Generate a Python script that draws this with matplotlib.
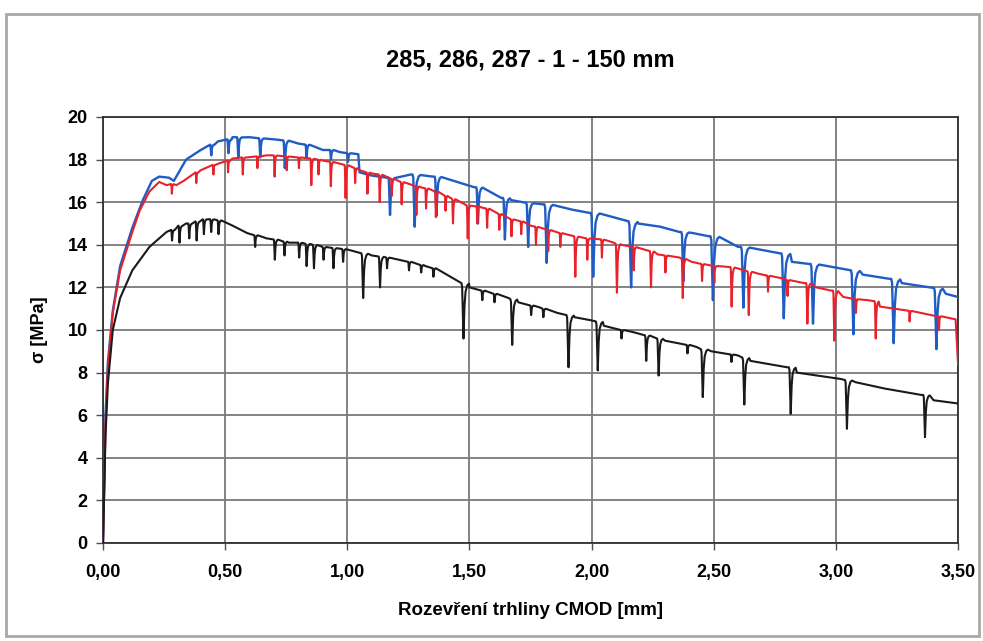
import numpy as np
import matplotlib
matplotlib.use("Agg")
import matplotlib.pyplot as plt
from matplotlib.patches import Rectangle
from matplotlib.ticker import FuncFormatter

plt.rcParams['font.family'] = ['Liberation Sans', 'DejaVu Sans']

# --- data ------------------------------------------------------------
title = "285, 286, 287 - 1 - 150 mm"
xlabel = "Rozevření trhliny CMOD [mm]"
ylabel = "σ [MPa]"

# blue specimen: envelope points (x, sigma)
blue_env_x = [0, 0.005, 0.01, 0.02, 0.04, 0.07, 0.12, 0.163, 0.20, 0.23, 0.27, 0.29, 0.31, 0.34,
              0.40, 0.47, 0.53, 0.60, 0.70, 0.80, 0.90, 0.97, 1.045, 1.05, 1.10, 1.16, 1.19, 1.26,
              1.29, 1.35, 1.38, 1.45, 1.52, 1.55, 1.63, 1.67, 1.73, 1.76, 1.80, 1.84, 1.92, 1.99,
              2.03, 2.15, 2.19, 2.28, 2.36, 2.41, 2.48, 2.51, 2.60, 2.65, 2.77, 2.82, 2.89, 2.92,
              3.06, 3.11, 3.22, 3.27, 3.40, 3.45, 3.50]
blue_env_y = [0, 3.0, 6.0, 8.5, 10.9, 13.0, 14.8, 16.1, 17.0, 17.2, 17.15, 17.0, 17.4, 18.0,
              18.45, 18.85, 19.05, 19.05, 18.95, 18.75, 18.45, 18.35, 18.25, 17.4, 17.25, 17.15, 17.3, 17.3,
              17.2, 17.2, 17.1, 16.95, 16.7, 16.5, 16.2, 16.1, 15.97, 15.97, 15.9, 15.8, 15.65, 15.5,
              15.27, 15.1, 15.0, 14.85, 14.6, 14.56, 14.4, 14.2, 13.9, 13.86, 13.6, 13.2, 13.1, 13.0,
              12.8, 12.6, 12.4, 12.2, 11.97, 11.7, 11.55]
# unloading cycles: position, stress before unloading, lowest stress
blue_dip_x = [0.44, 0.51, 0.55, 0.64, 0.74, 0.83, 0.93, 1.00, 1.17, 1.27, 1.36, 1.53, 1.64, 1.735,
              1.81, 2.00, 2.155, 2.37, 2.49, 2.615, 2.78, 2.90, 3.065, 3.23, 3.405]
blue_dip_top = [18.7, 18.95, 19.05, 19.0, 18.9, 18.7, 18.45, 18.3, 17.15, 17.3, 17.2, 16.7, 16.2, 15.97,
                15.9, 15.5, 15.1, 14.6, 14.4, 13.9, 13.6, 13.1, 12.8, 12.4, 11.97]
blue_dip_bot = [18.2, 18.3, 18.1, 18.1, 17.6, 18.1, 18.0, 17.9, 15.4, 14.85, 15.35, 15.0, 14.25, 13.9,
                13.15, 12.5, 12.0, 12.3, 11.4, 11.05, 10.55, 10.3, 9.8, 9.38, 9.1]

# red specimen
red_env_x = [0, 0.005, 0.01, 0.02, 0.04, 0.07, 0.12, 0.15, 0.19, 0.23, 0.26, 0.30, 0.33, 0.40,
             0.47, 0.53, 0.67, 0.81, 0.90, 1.00, 1.05, 1.10, 1.22, 1.30, 1.40, 1.49, 1.55, 1.67,
             1.75, 1.88, 1.94, 2.00, 2.09, 2.12, 2.24, 2.27, 2.36, 2.41, 2.52, 2.58, 2.68, 2.79,
             2.87, 2.92, 2.98, 3.03, 3.13, 3.18, 3.30, 3.41, 3.49, 3.50]
red_env_y = [0, 2.5, 5.5, 8.3, 10.8, 12.8, 14.6, 15.6, 16.5, 16.95, 16.8, 16.8, 17.0, 17.5,
             17.8, 18.05, 18.2, 18.1, 17.95, 17.75, 17.5, 17.35, 16.95, 16.7, 16.3, 15.85, 15.75, 15.2,
             14.9, 14.5, 14.4, 14.3, 14.1, 14.0, 13.7, 13.55, 13.4, 13.2, 13.0, 12.95, 12.65, 12.4,
             12.2, 12.0, 11.85, 11.55, 11.4, 11.1, 10.9, 10.65, 10.5, 8.4]
red_dip_x = [0.28, 0.38, 0.45, 0.51, 0.57, 0.63, 0.70, 0.75, 0.80, 0.85, 0.88, 0.93, 0.99, 1.03,
             1.08, 1.13, 1.18, 1.22, 1.28, 1.32, 1.36, 1.40, 1.43, 1.49, 1.53, 1.57, 1.62, 1.67,
             1.71, 1.77, 1.82, 1.87, 1.93, 1.98, 2.04, 2.10, 2.17, 2.24, 2.30, 2.37, 2.45, 2.50,
             2.57, 2.64, 2.72, 2.80, 2.88, 2.99, 3.08, 3.16, 3.30, 3.42]
red_dip_top = [16.85, 17.4, 17.75, 17.95, 18.1, 18.15, 18.2, 18.15, 18.1, 18.05, 18.0, 17.9, 17.75, 17.6,
               17.4, 17.3, 17.1, 16.95, 16.75, 16.65, 16.5, 16.3, 16.15, 15.85, 15.8, 15.7, 15.45, 15.2,
               15.1, 14.85, 14.7, 14.55, 14.4, 14.3, 14.25, 14.05, 13.9, 13.7, 13.5, 13.35, 13.1, 13.0,
               12.95, 12.75, 12.55, 12.35, 12.2, 11.85, 11.45, 11.35, 10.9, 10.65]
red_dip_bot = [16.4, 16.9, 17.3, 17.4, 17.3, 17.6, 17.2, 17.5, 17.6, 16.8, 17.3, 16.75, 16.2, 16.9,
               16.4, 16.0, 16.3, 15.9, 15.4, 15.7, 15.3, 15.6, 15.0, 14.3, 15.0, 14.8, 14.7, 14.4,
               14.5, 14.0, 13.7, 13.9, 12.5, 13.3, 13.4, 11.75, 12.8, 12.0, 12.7, 11.5, 12.3, 12.2,
               11.1, 10.7, 11.8, 11.6, 10.3, 9.5, 10.8, 9.6, 10.4, 10.0]

# black specimen
black_env_x = [0, 0.005, 0.01, 0.02, 0.04, 0.07, 0.12, 0.19, 0.26, 0.34, 0.41, 0.48, 0.53, 0.59,
               0.67, 0.76, 0.90, 1.01, 1.10, 1.21, 1.32, 1.43, 1.47, 1.50, 1.60, 1.66, 1.70, 1.79,
               1.86, 1.90, 1.93, 2.00, 2.05, 2.17, 2.22, 2.27, 2.30, 2.43, 2.45, 2.49, 2.60, 2.62,
               2.65, 2.80, 2.84, 3.02, 3.04, 3.08, 3.20, 3.35, 3.40, 3.50]
black_env_y = [0, 2.5, 5.0, 7.5, 10.0, 11.5, 12.8, 13.9, 14.6, 15.0, 15.25, 15.15, 14.9, 14.55,
               14.3, 14.1, 13.9, 13.75, 13.5, 13.3, 13.0, 12.45, 12.2, 12.0, 11.7, 11.5, 11.3, 11.05,
               10.8, 10.7, 10.6, 10.45, 10.2, 9.9, 9.75, 9.6, 9.5, 9.2, 9.1, 9.0, 8.8, 8.7,
               8.55, 8.25, 8.0, 7.7, 7.65, 7.55, 7.25, 6.95, 6.7, 6.55]
black_dip_x = [0.28, 0.31, 0.35, 0.38, 0.41, 0.44, 0.47, 0.62, 0.70, 0.74, 0.80, 0.83, 0.86, 0.90,
               0.94, 0.98, 1.06, 1.13, 1.16, 1.25, 1.30, 1.35, 1.47, 1.55, 1.60, 1.67, 1.75, 1.80,
               1.90, 2.02, 2.12, 2.22, 2.27, 2.39, 2.45, 2.57, 2.62, 2.81, 3.04, 3.36]
black_dip_top = [14.7, 14.9, 15.0, 15.1, 15.2, 15.2, 15.15, 14.45, 14.25, 14.15, 14.1, 14.05, 14.0, 13.9,
                 13.85, 13.8, 13.6, 13.45, 13.4, 13.2, 13.05, 12.9, 12.2, 11.85, 11.7, 11.45, 11.15, 11.0,
                 10.7, 10.4, 10.0, 9.75, 9.6, 9.3, 9.1, 8.85, 8.7, 8.25, 7.65, 6.95]
black_dip_bot = [14.2, 14.1, 14.3, 14.2, 14.5, 14.6, 14.5, 13.9, 13.3, 13.5, 13.4, 13.0, 12.9, 13.3,
                 12.9, 13.2, 11.5, 12.0, 12.9, 12.8, 12.7, 12.5, 9.6, 11.4, 11.3, 9.3, 10.7, 10.6,
                 8.25, 8.1, 9.6, 8.55, 7.86, 8.9, 6.85, 8.5, 6.5, 6.06, 5.36, 4.97]

x_ticks = [0, 0.5, 1.0, 1.5, 2.0, 2.5, 3.0, 3.5]
y_ticks = [0, 2, 4, 6, 8, 10, 12, 14, 16, 18, 20]


def build_path(env_x, env_y, dip_x, dip_top, dip_bot, w0, wk):
    # joins the envelope with the unloading/reloading loops
    pts = list(zip(env_x, env_y))
    for dx, top, bot in zip(dip_x, dip_top, dip_bot):
        depth = top - bot
        w = min(w0 + wk * depth, 0.035)
        pts = [p for p in pts if not (dx - 0.1 * w < p[0] <= dx + w)]
        pts += [(dx - 0.1 * w, top),
                (dx, top - 0.06 * depth),
                (dx + 0.2 * w, bot),
                (dx + 0.35 * w, bot + 0.6 * depth),
                (dx + 0.5 * w, top - 0.15 * depth),
                (dx + 0.75 * w, top - 0.04 * depth),
                (dx + w, top - 0.01 * depth)]
    pts.sort(key=lambda p: p[0])
    return [p[0] for p in pts], [p[1] for p in pts]


fig = plt.figure(figsize=(9.83, 6.41), dpi=100)
fig.patch.set_facecolor('white')
fig.add_artist(Rectangle((0.006, 0.008), 0.99, 0.97, transform=fig.transFigure,
                         fill=False, edgecolor='#a8a8a8', linewidth=2))

ax = fig.add_axes([0.1048, 0.1529, 0.8698, 0.6646])

bx, by = build_path(blue_env_x, blue_env_y, blue_dip_x, blue_dip_top, blue_dip_bot, 0.012, 0.007)
rx, ry = build_path(red_env_x, red_env_y, red_dip_x, red_dip_top, red_dip_bot, 0.007, 0.005)
kx, ky = build_path(black_env_x, black_env_y, black_dip_x, black_dip_top, black_dip_bot, 0.01, 0.007)

ax.plot(bx, by, color='#1f5cc4', linewidth=1.7, zorder=3)
ax.plot(rx, ry, color='#e8212b', linewidth=1.5, zorder=4)
ax.plot(kx, ky, color='#1a1a1a', linewidth=1.5, zorder=4)

ax.set_xlim(0, 3.5)
ax.set_ylim(0, 20)
ax.set_xticks(x_ticks)
ax.set_yticks(y_ticks)
ax.xaxis.set_major_formatter(FuncFormatter(lambda v, p: f"{v:.2f}".replace('.', ',')))
ax.grid(True, color='#7a7a7a', linewidth=1.3)
ax.set_axisbelow(True)
for s in ax.spines.values():
    s.set_color('#303030')
    s.set_linewidth(1.3)
ax.tick_params(direction='out', length=5, width=1, color='#505050', labelsize=13)
ax.tick_params(axis='x', pad=10)
ax.tick_params(axis='y', pad=6)
for lab in ax.get_xticklabels() + ax.get_yticklabels():
    lab.set_fontweight('bold')

ax.set_title(title, fontsize=17, fontweight='bold', pad=36)
ax.set_xlabel(xlabel, fontsize=13.5, fontweight='bold', labelpad=15)
ax.set_ylabel(ylabel, fontsize=13, fontweight='bold', labelpad=14)

fig.savefig("out.png", dpi=100, facecolor='white')
